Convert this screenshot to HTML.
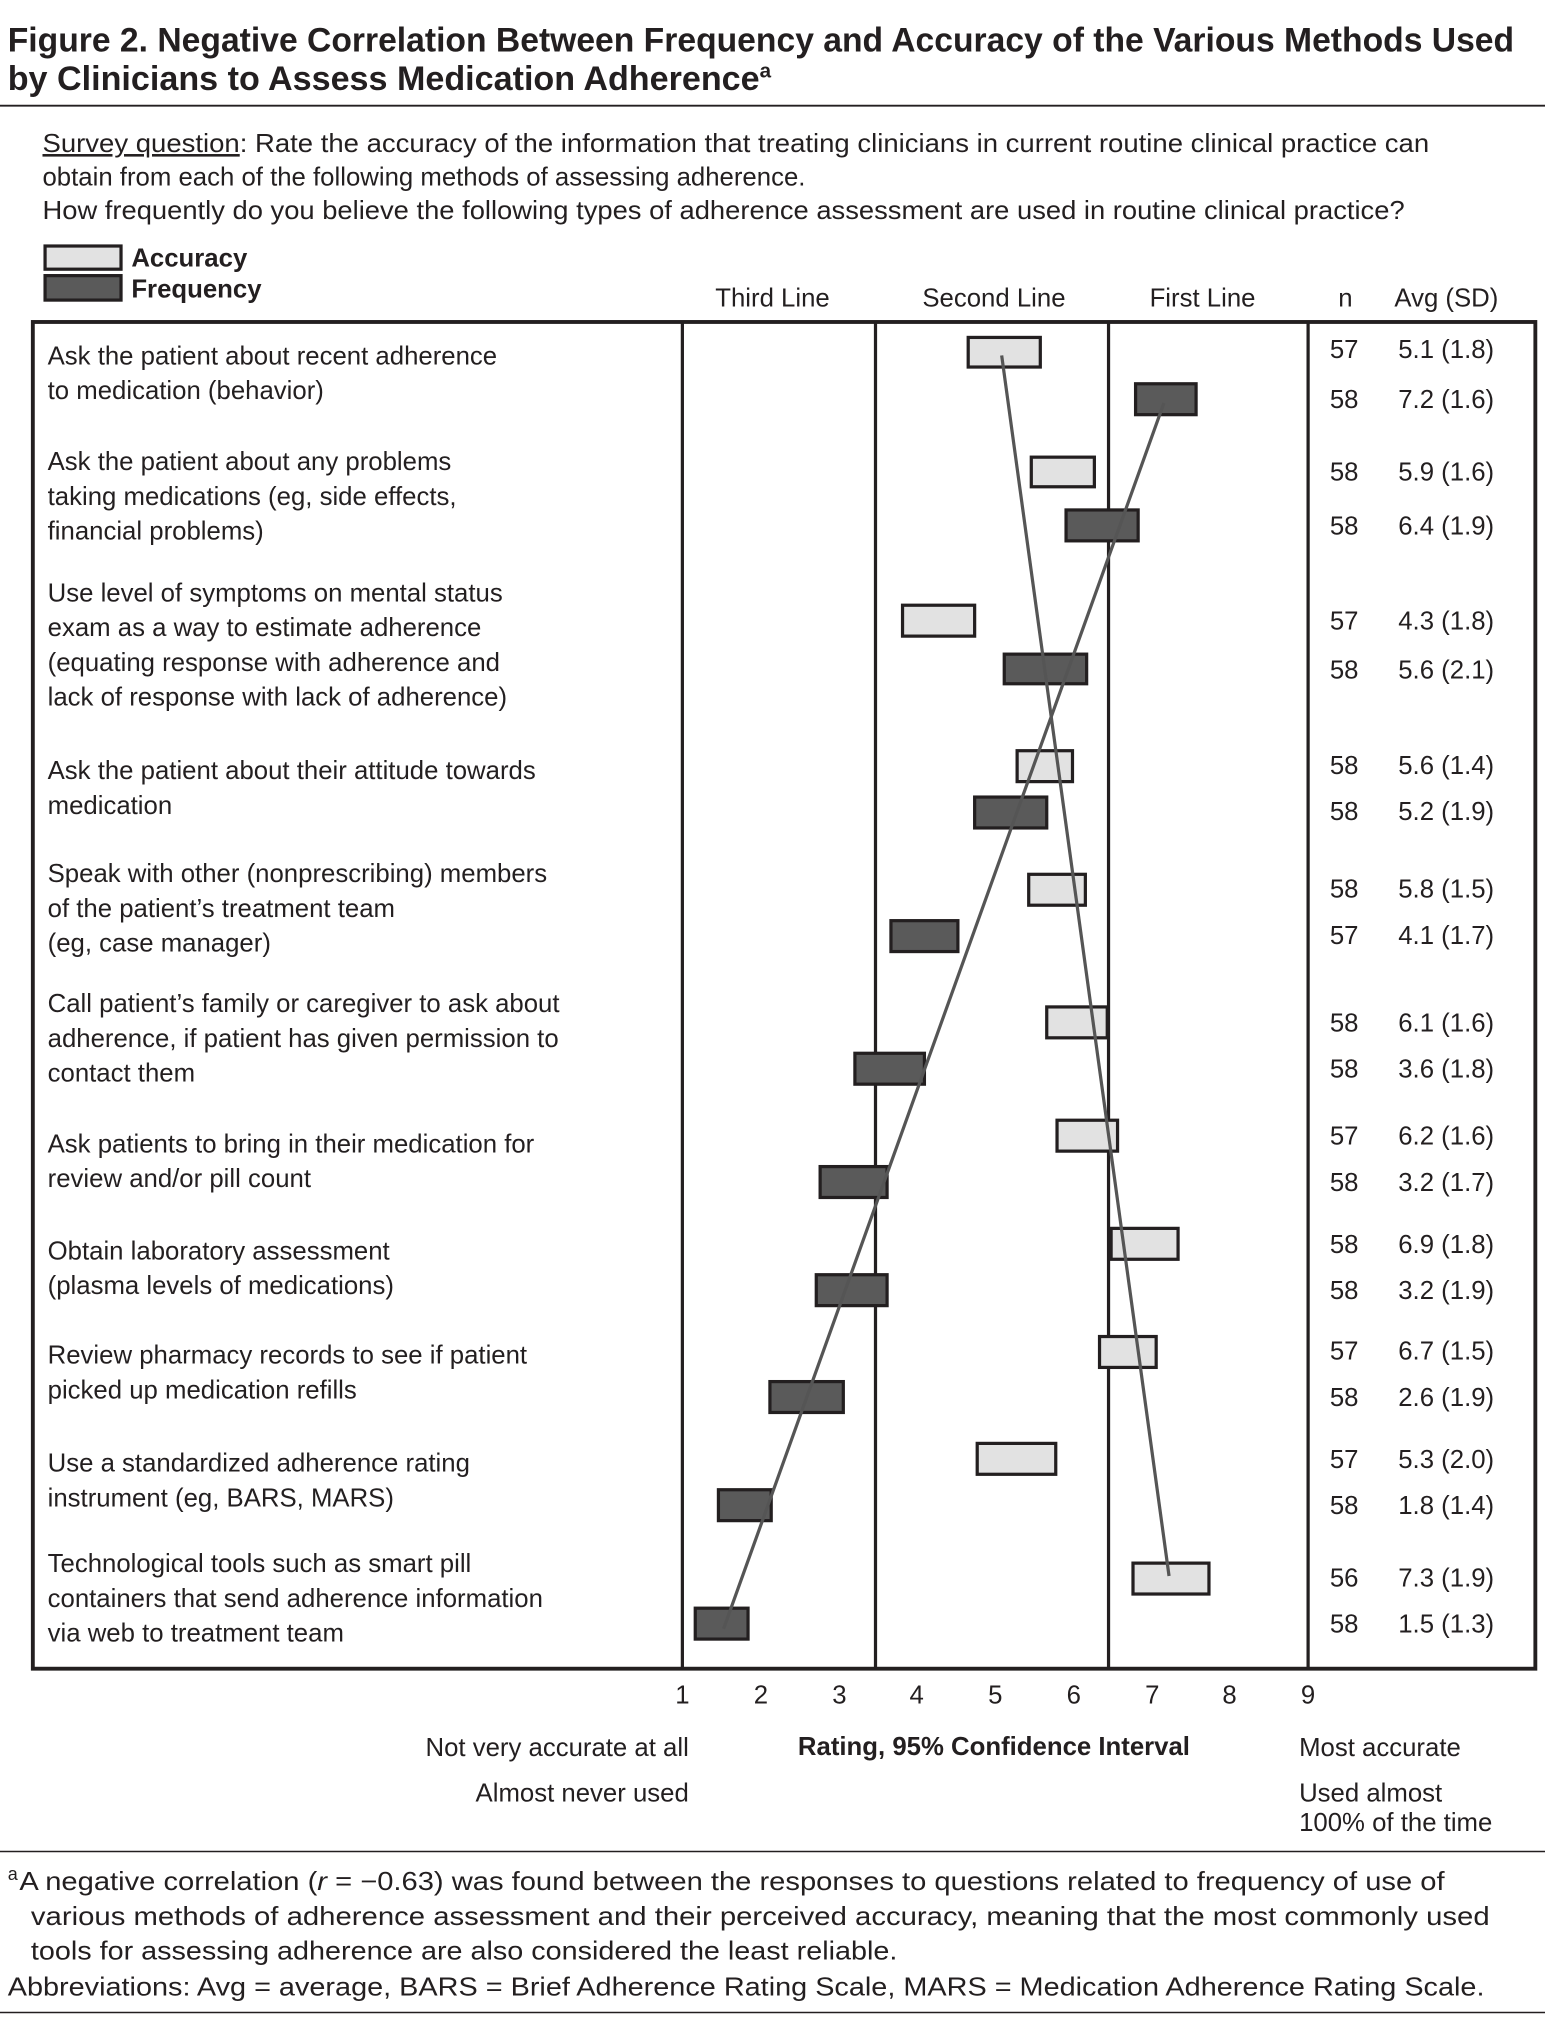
<!DOCTYPE html>
<html><head><meta charset="utf-8"><style>
html,body{margin:0;padding:0;background:#fff;}
svg{display:block;}
text{font-family:"Liberation Sans",sans-serif;fill:#231f20;}
</style></head><body>
<svg width="1545" height="2019" viewBox="0 0 1200 1568" xmlns="http://www.w3.org/2000/svg">
<g font-size="26.5" font-weight="bold">
<text x="6" y="40" textLength="1170" lengthAdjust="spacingAndGlyphs">Figure 2. Negative Correlation Between Frequency and Accuracy of the Various Methods Used</text>
<text x="6" y="70">by Clinicians to Assess Medication Adherence<tspan font-size="16" dy="-10">a</tspan></text>
</g>
<line x1="0" y1="82" x2="1200" y2="82" stroke="#231f20" stroke-width="1.5"/>
<g font-size="20">
<text x="33" y="118" textLength="1077" lengthAdjust="spacingAndGlyphs"><tspan text-decoration="underline">Survey question</tspan>: Rate the accuracy of the information that treating clinicians in current routine clinical practice can</text>
<text x="33" y="144">obtain from each of the following methods of assessing adherence.</text>
<text x="33" y="170" textLength="1058" lengthAdjust="spacingAndGlyphs">How frequently do you believe the following types of adherence assessment are used in routine clinical practice?</text>
</g>
<rect x="35" y="191" width="59" height="18" fill="#e2e2e2" stroke="#231f20" stroke-width="2.5"/>
<rect x="35" y="214" width="59" height="19" fill="#5a5a5a" stroke="#231f20" stroke-width="2.5"/>
<text x="102" y="207" font-size="20" font-weight="bold">Accuracy</text>
<text x="102" y="231" font-size="20" font-weight="bold">Frequency</text>
<g font-size="20">
<text x="600" y="238" text-anchor="middle">Third Line</text>
<text x="772" y="238" text-anchor="middle">Second Line</text>
<text x="934" y="238" text-anchor="middle">First Line</text>
<text x="1045" y="238" text-anchor="middle">n</text>
<text x="1083" y="238">Avg  (SD)</text>
</g>
<rect x="25.5" y="250" width="1167" height="1046" fill="none" stroke="#231f20" stroke-width="3"/>
<g stroke="#231f20" stroke-width="2.5">
<line x1="530" y1="250" x2="530" y2="1296"/>
<line x1="680" y1="250" x2="680" y2="1296"/>
<line x1="861" y1="250" x2="861" y2="1296"/>
<line x1="1016" y1="250" x2="1016" y2="1296"/>
</g>
<g stroke="#231f20" stroke-width="2.5">
<g fill="#e2e2e2">
<rect x="752" y="262" width="56" height="23"/>
<rect x="801" y="355" width="49" height="23"/>
<rect x="701" y="470" width="56" height="24"/>
<rect x="790" y="583" width="43" height="24"/>
<rect x="799" y="679" width="44" height="24"/>
<rect x="813" y="782" width="47" height="24"/>
<rect x="821" y="870" width="47" height="24"/>
<rect x="863" y="954" width="52" height="24"/>
<rect x="854" y="1038" width="44" height="24"/>
<rect x="759" y="1121" width="61" height="24"/>
<rect x="880" y="1214" width="59" height="24"/>
</g>
<g fill="#5a5a5a">
<rect x="882" y="298" width="47" height="24"/>
<rect x="828" y="396" width="56" height="24"/>
<rect x="780" y="508" width="64" height="23"/>
<rect x="757" y="619" width="56" height="24"/>
<rect x="692" y="715" width="52" height="24"/>
<rect x="664" y="818" width="54" height="24"/>
<rect x="637" y="906" width="52" height="24"/>
<rect x="634" y="990" width="55" height="24"/>
<rect x="598" y="1073" width="57" height="24"/>
<rect x="558" y="1157" width="41" height="24"/>
<rect x="540" y="1249" width="41" height="24"/>
</g>
</g>
<line x1="778" y1="276" x2="908" y2="1224" stroke="#555" stroke-width="2.5"/>
<line x1="904" y1="313" x2="562" y2="1265" stroke="#555" stroke-width="2.5"/>
<g font-size="20">
<text x="37" y="283">Ask the patient about recent adherence</text>
<text x="37" y="310">to medication (behavior)</text>
<text x="37" y="365">Ask the patient about any problems</text>
<text x="37" y="392">taking medications (eg, side effects,</text>
<text x="37" y="419">financial problems)</text>
<text x="37" y="467">Use level of symptoms on mental status</text>
<text x="37" y="494">exam as a way to estimate adherence</text>
<text x="37" y="521">(equating response with adherence and</text>
<text x="37" y="548">lack of response  with lack of adherence)</text>
<text x="37" y="605">Ask the patient about their attitude towards</text>
<text x="37" y="632">medication</text>
<text x="37" y="685">Speak with other (nonprescribing) members</text>
<text x="37" y="712">of the patient’s treatment team</text>
<text x="37" y="739">(eg, case manager)</text>
<text x="37" y="786">Call patient’s family or caregiver to ask about</text>
<text x="37" y="813">adherence, if patient has given permission to</text>
<text x="37" y="840">contact them</text>
<text x="37" y="895">Ask patients to bring in their medication for</text>
<text x="37" y="922">review and/or pill count</text>
<text x="37" y="978">Obtain laboratory assessment</text>
<text x="37" y="1005">(plasma levels of medications)</text>
<text x="37" y="1059">Review pharmacy records to see if patient</text>
<text x="37" y="1086">picked up medication refills</text>
<text x="37" y="1143">Use a standardized adherence rating</text>
<text x="37" y="1170">instrument (eg, BARS, MARS)</text>
<text x="37" y="1221">Technological tools such as smart pill</text>
<text x="37" y="1248">containers that send adherence information</text>
<text x="37" y="1275">via web to treatment team</text>
</g>
<g font-size="20">
<g text-anchor="middle">
<text x="1044" y="278">57</text><text x="1044" y="317">58</text>
<text x="1044" y="373">58</text><text x="1044" y="415">58</text>
<text x="1044" y="489">57</text><text x="1044" y="527">58</text>
<text x="1044" y="601">58</text><text x="1044" y="637">58</text>
<text x="1044" y="697">58</text><text x="1044" y="733">57</text>
<text x="1044" y="801">58</text><text x="1044" y="837">58</text>
<text x="1044" y="889">57</text><text x="1044" y="925">58</text>
<text x="1044" y="973">58</text><text x="1044" y="1009">58</text>
<text x="1044" y="1056">57</text><text x="1044" y="1092">58</text>
<text x="1044" y="1140">57</text><text x="1044" y="1176">58</text>
<text x="1044" y="1232">56</text><text x="1044" y="1268">58</text>
</g>
<g>
<text x="1086" y="278">5.1  (1.8)</text><text x="1086" y="317">7.2  (1.6)</text>
<text x="1086" y="373">5.9  (1.6)</text><text x="1086" y="415">6.4  (1.9)</text>
<text x="1086" y="489">4.3  (1.8)</text><text x="1086" y="527">5.6  (2.1)</text>
<text x="1086" y="601">5.6  (1.4)</text><text x="1086" y="637">5.2  (1.9)</text>
<text x="1086" y="697">5.8  (1.5)</text><text x="1086" y="733">4.1  (1.7)</text>
<text x="1086" y="801">6.1  (1.6)</text><text x="1086" y="837">3.6  (1.8)</text>
<text x="1086" y="889">6.2  (1.6)</text><text x="1086" y="925">3.2  (1.7)</text>
<text x="1086" y="973">6.9  (1.8)</text><text x="1086" y="1009">3.2  (1.9)</text>
<text x="1086" y="1056">6.7  (1.5)</text><text x="1086" y="1092">2.6  (1.9)</text>
<text x="1086" y="1140">5.3  (2.0)</text><text x="1086" y="1176">1.8  (1.4)</text>
<text x="1086" y="1232">7.3  (1.9)</text><text x="1086" y="1268">1.5  (1.3)</text>
</g>
</g>
<g font-size="20" text-anchor="middle">
<text x="530" y="1323">1</text><text x="591" y="1323">2</text><text x="652" y="1323">3</text>
<text x="712" y="1323">4</text><text x="773" y="1323">5</text><text x="834" y="1323">6</text>
<text x="895" y="1323">7</text><text x="955" y="1323">8</text><text x="1016" y="1323">9</text>
</g>
<g font-size="20">
<text x="535" y="1364" text-anchor="end">Not very accurate at all</text>
<text x="535" y="1399" text-anchor="end">Almost never used</text>
<text x="772" y="1363" text-anchor="middle" font-weight="bold">Rating, 95% Confidence Interval</text>
<text x="1009" y="1364">Most accurate</text>
<text x="1009" y="1399">Used almost</text>
<text x="1009" y="1422">100% of the time</text>
</g>
<line x1="0" y1="1438" x2="1200" y2="1438" stroke="#231f20" stroke-width="1.2"/>
<g font-size="20">
<text x="6" y="1460" font-size="14">a</text>
<text x="15" y="1468" textLength="1107" lengthAdjust="spacingAndGlyphs">A negative correlation (<tspan font-style="italic">r</tspan> = −0.63) was found between the responses to questions related to frequency of use of</text>
<text x="24" y="1495" textLength="1133" lengthAdjust="spacingAndGlyphs">various methods of adherence assessment and their perceived accuracy, meaning that the most commonly used</text>
<text x="24" y="1522" textLength="673" lengthAdjust="spacingAndGlyphs">tools for assessing adherence are also considered the least reliable.</text>
<text x="6" y="1550" textLength="1147" lengthAdjust="spacingAndGlyphs">Abbreviations: Avg = average, BARS = Brief Adherence Rating Scale, MARS = Medication Adherence Rating Scale.</text>
</g>
<line x1="0" y1="1563" x2="1200" y2="1563" stroke="#231f20" stroke-width="1.2"/>
</svg>
</body></html>
